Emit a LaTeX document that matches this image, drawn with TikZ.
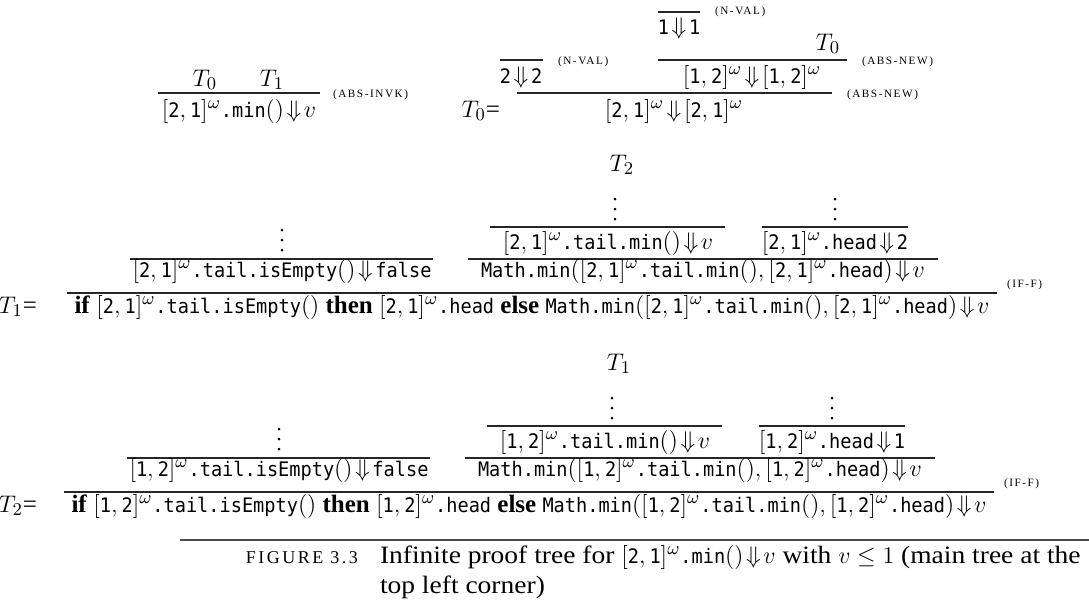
\documentclass[tikz,border=0pt]{standalone}
\usepackage{fontspec}
\setmainfont{Liberation Serif}
\newfontfamily\capf{Liberation Serif}[FakeStretch=1.1]
\newfontfamily\monof{DejaVu Sans Mono}[Scale=0.8,FakeStretch=0.93]
\newcommand{\mt}[1]{\mbox{\monof #1}}
\newcommand{\li}[2]{[\mt{#1},\mt{#2}]^{\omega}}
\newcommand{\dn}{\mkern2mu{\Downarrow}\mkern2mu}
\newcommand{\rl}[1]{{\addfontfeature{LetterSpace=14}(#1)}}
\begin{document}
\begin{tikzpicture}[x=0.5pt,y=-0.5pt,
  txt/.style={inner sep=0pt,outer sep=0pt,anchor=base,font=\fontsize{12.5}{15}\selectfont},
  lab/.style={inner sep=0pt,outer sep=0pt,anchor=west,font=\fontsize{5.6}{6.5}\selectfont},
  bar/.style={line width=0.8pt,black!85},
  vdts/.pic={\fill (0,-20) circle (1.5) (0,-10) circle (1.5) (0,0) circle (1.5);}]
\useasboundingbox (0,0) rectangle (1089,607);

% ---------- main tree (top left)
\node[txt] (a0) at (205,86) {$T_0$};
\node[txt] (a1) at (272,86) {$T_1$};
\draw[bar] (158,93) -- (320,93);
\node[txt] (ac) at (239,117) {$\li{2}{1}\mt{.min}()\dn v$};
\node[lab] (al) at (333,95) {\rl{ABS-INVK}};

% ---------- T0
\node[txt,anchor=base east] (t0eq) at (500,117) {$T_0$=};
\draw[bar] (500,60) -- (543,60);
\node[txt] (n22) at (521,83) {$\mt{2}\dn\mt{2}$};
\node[lab] (nv1) at (558,62) {\rl{N-VAL}};
\draw[bar] (658,12) -- (700,12);
\node[txt] (n11) at (679,34) {$\mt{1}\dn\mt{1}$};
\node[lab] (nv2) at (715,12) {\rl{N-VAL}};
\node[txt] (t0b) at (828,50) {$T_0$};
\draw[bar] (658,60) -- (847,60);
\node[lab] (an1) at (862,62) {\rl{ABS-NEW}};
\node[txt] (c12) at (752,83) {$\li{1}{2}\dn\li{1}{2}$};
\draw[bar] (517,93) -- (832,93);
\node[lab] (an2) at (847,95) {\rl{ABS-NEW}};
\node[txt] (c21) at (674,117) {$\li{2}{1}\dn\li{2}{1}$};

% ---------- T1
\node[txt] (lt2) at (622,171) {$T_2$};
\pic at (282,250) {vdts};
\draw[bar] (130,259) -- (433,259);
\node[txt] (p1) at (282,277) {$\li{2}{1}\mt{.tail.isEmpty}()\dn\mt{false}$};
\pic at (615,219) {vdts};
\draw[bar] (490,227) -- (725,227);
\node[txt] (p2a) at (608,249) {$\li{2}{1}\mt{.tail.min}()\dn v$};
\pic at (835,219) {vdts};
\draw[bar] (762,227) -- (908,227);
\node[txt] (p2b) at (835,249) {$\li{2}{1}\mt{.head}\dn\mt{2}$};
\draw[bar] (468,259) -- (938,259);
\node[txt] (p2) at (703,277) {$\mt{Math.min}(\li{2}{1}\mt{.tail.min}(),\li{2}{1}\mt{.head})\dn v$};
\draw[bar] (67,293) -- (997,293);
\node[lab] (iff1) at (1007,285) {\rl{IF-F}};
\node[txt] (t1eq) at (18,313) {$T_1$=};
\node[txt] (c1) at (532,313) {\textbf{if} $\li{2}{1}\mt{.tail.isEmpty}()$ \textbf{then} $\li{2}{1}$\mt{.head} \textbf{else} $\mt{Math.min}(\li{2}{1}\mt{.tail.min}(),\li{2}{1}\mt{.head})\dn v$};

% ---------- T2
\begin{scope}[shift={(-3,199)}]
\node[txt] (lt1) at (622,171) {$T_1$};
\pic at (282,250) {vdts};
\draw[bar] (130,259) -- (433,259);
\node[txt] (q1) at (282,277) {$\li{1}{2}\mt{.tail.isEmpty}()\dn\mt{false}$};
\pic at (615,219) {vdts};
\draw[bar] (490,227) -- (725,227);
\node[txt] (q2a) at (608,249) {$\li{1}{2}\mt{.tail.min}()\dn v$};
\pic at (835,219) {vdts};
\draw[bar] (762,227) -- (908,227);
\node[txt] (q2b) at (835,249) {$\li{1}{2}\mt{.head}\dn\mt{1}$};
\draw[bar] (468,259) -- (938,259);
\node[txt] (q2) at (703,277) {$\mt{Math.min}(\li{1}{2}\mt{.tail.min}(),\li{1}{2}\mt{.head})\dn v$};
\draw[bar] (67,293) -- (997,293);
\node[lab] (iff2) at (1007,285) {\rl{IF-F}};
\node[txt] (t2eq) at (21,313) {$T_2$=};
\node[txt] (c2) at (532,313) {\textbf{if} $\li{1}{2}\mt{.tail.isEmpty}()$ \textbf{then} $\li{1}{2}$\mt{.head} \textbf{else} $\mt{Math.min}(\li{1}{2}\mt{.tail.min}(),\li{1}{2}\mt{.head})\dn v$};
\end{scope}

% ---------- caption
\draw[line width=0.6pt,black!70] (180,540) -- (1089,540);
\node[txt,anchor=base east,font=\fontsize{9}{11}\selectfont\addfontfeature{LetterSpace=14}] (fig) at (358,563) {FIGURE 3.3};
\node[txt,anchor=base west,font=\fontsize{12.5}{15}\capf] (cap1) at (380,563) {Infinite proof tree for $\li{2}{1}\mt{.min}()\dn v$ with $v\le 1$ (main tree at the};
\node[txt,anchor=base west,font=\fontsize{12.5}{15}\capf] (cap2) at (380,593) {top left corner)};
\end{tikzpicture}
\end{document}
